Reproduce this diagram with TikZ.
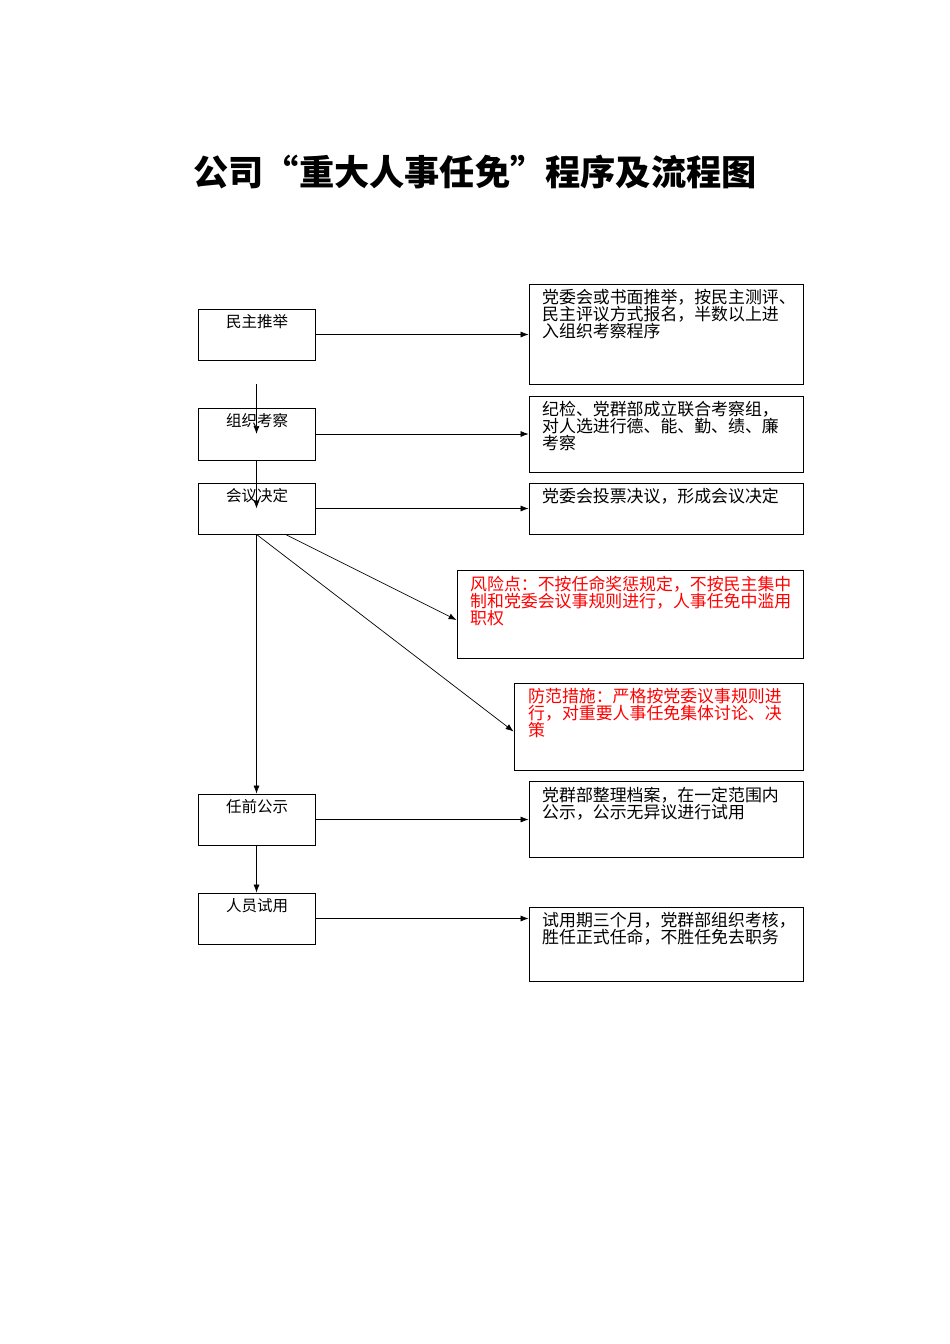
\documentclass[tikz,border=0pt]{standalone}
\usepackage{fontspec}
\setmainfont{Noto Sans CJK SC}
\usetikzlibrary{calc,arrows.meta}
\begin{document}
\begin{tikzpicture}[x=1pt,y=-1pt,
  box/.style={draw,line width=0.8pt,inner sep=0pt},
  txt/.style={anchor=north west,inner sep=0pt,align=left,font=\fontsize{16.9}{17}\selectfont},
  ltxt/.style={anchor=north,inner sep=0pt,font=\fontsize{15.5}{17}\selectfont},
  arr/.style={-{Latex[length=8pt,width=6pt]},line width=0.7pt}]
\useasboundingbox (0,0) rectangle (950,1344);
\node[font=\bfseries\fontsize{35.2}{40}\selectfont] (title) at (475,172) {公司“重大人事任免”程序及流程图};
% left boxes
\node[box,minimum width=117pt,minimum height=51pt] (a) at (256.5,334.5) {};
\node[box,minimum width=117pt,minimum height=52pt] (b) at (256.5,434) {};
\node[box,minimum width=117pt,minimum height=51pt] (c) at (256.5,508.5) {};
\node[box,minimum width=117pt,minimum height=51pt] (d) at (256.5,819.5) {};
\node[box,minimum width=117pt,minimum height=51pt] (e) at (256.5,918.5) {};
\node[ltxt] (ta) at (257,314) {民主推举};
\node[ltxt] (tb) at (257,413) {组织考察};
\node[ltxt] (tc) at (257,488) {会议决定};
\node[ltxt] (td) at (257,799) {任前公示};
\node[ltxt] (te) at (257,898) {人员试用};
% right boxes
\node[box,minimum width=274pt,minimum height=100pt] (r1) at (666,334) {};
\node[box,minimum width=274pt,minimum height=76pt] (r2) at (666,434) {};
\node[box,minimum width=274pt,minimum height=51pt] (r3) at (666,508.5) {};
\node[box,minimum width=346pt,minimum height=88pt] (rk) at (630,614) {};
\node[box,minimum width=289pt,minimum height=87pt] (ms) at (658.5,726.5) {};
\node[box,minimum width=274pt,minimum height=76pt] (r4) at (666,819) {};
\node[box,minimum width=274pt,minimum height=74pt] (r5) at (666,944) {};
\node[txt] (t1) at (542,289) {党委会或书面推举，按民主测评、\\民主评议方式报名，半数以上进\\入组织考察程序};
\node[txt] (t2) at (542,401) {纪检、党群部成立联合考察组，\\对人选进行德、能、勤、绩、廉\\考察};
\node[txt] (t3) at (542,488) {党委会投票决议，形成会议决定};
\node[txt,text=red] (tk) at (470,576) {风险点：不按任命奖惩规定，不按民主集中\\制和党委会议事规则进行，人事任免中滥用\\职权};
\node[txt,text=red] (tm) at (528,688) {防范措施：严格按党委议事规则进\\行，对重要人事任免集体讨论、决\\策};
\node[txt] (t4) at (542,787) {党群部整理档案，在一定范围内\\公示，公示无异议进行试用};
\node[txt] (t5) at (542,912) {试用期三个月，党群部组织考核，\\胜任正式任命，不胜任免去职务};
% arrows
\draw[arr] (a.east) -- (a.east -| r1.west);
\draw[arr] (b.east) -- (b.east -| r2.west);
\draw[arr] (c.east) -- (c.east -| r3.west);
\draw[arr] (d.east) -- (d.east -| r4.west);
\draw[arr] (e.east) -- (e.east -| r5.west);
\draw[arr] ([yshift=-24pt]a.south) -- (b.center);
\draw[arr] (b.south) -- (c.center);
\draw[arr] (c.south) -- (d.north);
\draw[arr] (d.south) -- (e.north);
\draw[arr] ([xshift=29pt]c.south) -- ([yshift=-6pt]rk.west);
\draw[arr] (c.south) -- ([yshift=-5pt]ms.west);
\end{tikzpicture}
\end{document}
